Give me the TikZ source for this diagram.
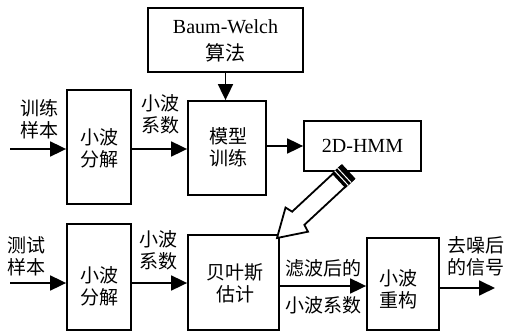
\documentclass[tikz,border=0pt]{standalone}
\usepackage{fontspec}
\setmainfont{Liberation Serif}
\newfontfamily\cjk{Noto Sans CJK SC}
\usetikzlibrary{arrows.meta}
\begin{document}
\begin{tikzpicture}[x=1pt,y=-1pt,
  box/.style={draw, line width=1.8pt, inner sep=0pt},
  txt/.style={font=\cjk\fontsize{19}{22}\selectfont, align=center, inner sep=0pt},
  lat/.style={font=\fontsize{20}{22}\selectfont, align=center, inner sep=0pt},
  arr/.style={line width=1.8pt, -{Triangle[length=16pt,width=15pt]}},
]
\useasboundingbox (0,0) rectangle (505,331);
% boxes
\node[box, minimum width=155pt, minimum height=64pt] (bw) at (225.5,40) {};
\node[box, minimum width=64pt, minimum height=114pt] (d1) at (99,147) {};
\node[box, minimum width=78pt, minimum height=94pt] (mt) at (227,148) {};
\node[box, minimum width=117pt, minimum height=50pt] (hmm) at (362.5,146) {};
\node[box, minimum width=64pt, minimum height=106pt] (d2) at (99,277) {};
\node[box, minimum width=91pt, minimum height=95pt] (bay) at (233.5,282.5) {};
\node[box, minimum width=72pt, minimum height=92pt] (rec) at (403,284) {};
% texts
\node[lat] (bwt) at (225.5,41) {Baum-Welch\\[5pt]{\cjk 算法}};
\node[lat] (hmmt) at (362.5,146) {2D-HMM};
\node[txt] (t1) at (39,119) {训练\\样本};
\node[txt] (c1) at (160,114) {小波\\系数};
\node[txt] (d1t) at (99,148) {小波\\分解};
\node[txt] (mtt) at (228,147) {模型\\训练};
\node[txt] (t2) at (26,256) {测试\\样本};
\node[txt] (c2) at (158,250) {小波\\系数};
\node[txt] (d2t) at (99,286) {小波\\分解};
\node[txt] (bayt) at (235,283) {贝叶斯\\估计};
\node[txt] (f1) at (323,268) {滤波后的};
\node[txt] (f2) at (323,305) {小波系数};
\node[txt] (rect) at (398,289) {小波\\重构};
\node[txt] (outt) at (476,256) {去噪后\\的信号};
% connectors
\coordinate (in1) at (10,149);
\coordinate (r1) at (0,146);
\coordinate (in2) at (10,283);
\coordinate (r2) at (0,286);
\coordinate (out) at (495,288);
\draw[arr] (in1) -- (in1 -| d1.west);
\draw[arr] (d1.east |- in1) -- (mt.west |- in1);
\draw[arr] (bw.south) -- (mt.north -| bw.south);
\draw[arr] (mt.east |- r1) -- (hmm.west |- r1);
\draw[arr] (in2) -- (in2 -| d2.west);
\draw[arr] (d2.east |- in2) -- (bay.west |- in2);
\draw[arr] (bay.east |- r2) -- (rec.west |- r2);
\draw[arr] (rec.east |- out) -- (out);
% pencil arrow
\begin{scope}[shift={(277,238)}, rotate=42.9, line width=1.8pt, line join=miter]
  \draw[fill=white] (0,0) -- (27,-16.5) -- (29,-9) -- (97,-9) -- (97,9) -- (29,9) -- (27,16.5) -- cycle;
  \fill (84,-10) rectangle (97,10);
  \draw[white, line width=1pt] (88,-10) -- (88,10);
  \draw[white, line width=1pt] (92,-10) -- (92,10);
\end{scope}
\end{tikzpicture}
\end{document}
